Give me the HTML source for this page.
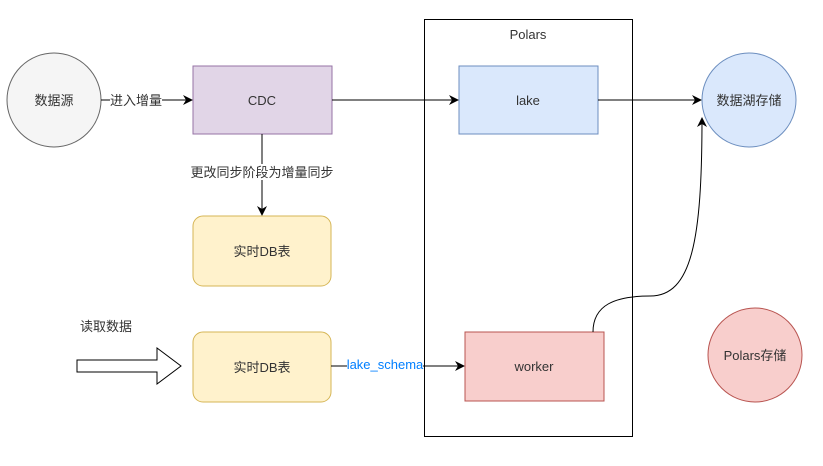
<!DOCTYPE html>
<html><head><meta charset="utf-8"><style>
html,body{margin:0;padding:0;background:#fff;width:823px;height:466px;overflow:hidden}
text{font-family:"Liberation Sans","Noto Sans CJK SC",sans-serif;font-size:13px;fill:#333}
</style></head><body>
<svg width="823" height="466" viewBox="0 0 823 466" xmlns="http://www.w3.org/2000/svg">
<defs><marker id="a" markerWidth="10" markerHeight="10" refX="9" refY="5" orient="auto" markerUnits="userSpaceOnUse"><path d="M0,0 L10,5 L0,10 L3,5 Z" fill="#000"/></marker></defs>
<rect x="424.5" y="19.5" width="208" height="417" fill="#fff" stroke="#000"/>
<text x="528" y="39" text-anchor="middle" font-size="12">Polars</text>
<circle cx="54" cy="100" r="47" fill="#f5f5f5" stroke="#666"/>
<text x="54" y="105" text-anchor="middle">数据源</text>
<rect x="193" y="66" width="139" height="68" fill="#e1d5e7" stroke="#9673a6"/>
<text x="262" y="105" text-anchor="middle">CDC</text>
<line x1="101" y1="100" x2="192" y2="100" stroke="#000" marker-end="url(#a)"/>
<rect x="110" y="92" width="52" height="16" fill="#fff"/>
<text x="136" y="105" text-anchor="middle">进入增量</text>
<line x1="262" y1="134" x2="262" y2="215" stroke="#000" marker-end="url(#a)"/>
<rect x="193" y="164" width="139" height="16" fill="#fff"/>
<text x="262" y="177" text-anchor="middle">更改同步阶段为增量同步</text>
<rect x="193" y="216" width="138" height="70" rx="10" fill="#fff2cc" stroke="#d6b656"/>
<text x="262" y="256" text-anchor="middle">实时DB表</text>
<rect x="459" y="66" width="139" height="68" fill="#dae8fc" stroke="#6c8ebf"/>
<text x="528" y="105" text-anchor="middle">lake</text>
<line x1="332" y1="100" x2="458" y2="100" stroke="#000" marker-end="url(#a)"/>
<line x1="598" y1="100" x2="701" y2="100" stroke="#000" marker-end="url(#a)"/>
<circle cx="749" cy="100" r="47" fill="#dae8fc" stroke="#6c8ebf"/>
<text x="749" y="105" text-anchor="middle">数据湖存储</text>
<text x="106" y="331" text-anchor="middle">读取数据</text>
<path d="M77,360 L157,360 L157,348 L181,366 L157,384 L157,372 L77,372 Z" fill="#fff" stroke="#000"/>
<rect x="193" y="332" width="138" height="70" rx="10" fill="#fff2cc" stroke="#d6b656"/>
<text x="262" y="372" text-anchor="middle">实时DB表</text>
<line x1="331" y1="366" x2="464" y2="366" stroke="#000" marker-end="url(#a)"/>
<rect x="347" y="358" width="76" height="14" fill="#fff"/>
<text x="385" y="369" text-anchor="middle" font-size="12" style="fill:#007fff">lake_schema</text>
<rect x="465" y="332" width="139" height="69" fill="#f8cecc" stroke="#b85450"/>
<text x="534" y="371" text-anchor="middle">worker</text>
<path d="M593,332 C593,305 615,296 650,296 C692,296 702,240 702,118" fill="none" stroke="#000" marker-end="url(#a)"/>
<circle cx="755" cy="355" r="47" fill="#f8cecc" stroke="#b85450"/>
<text x="755" y="360" text-anchor="middle">Polars存储</text>
</svg>
</body></html>
